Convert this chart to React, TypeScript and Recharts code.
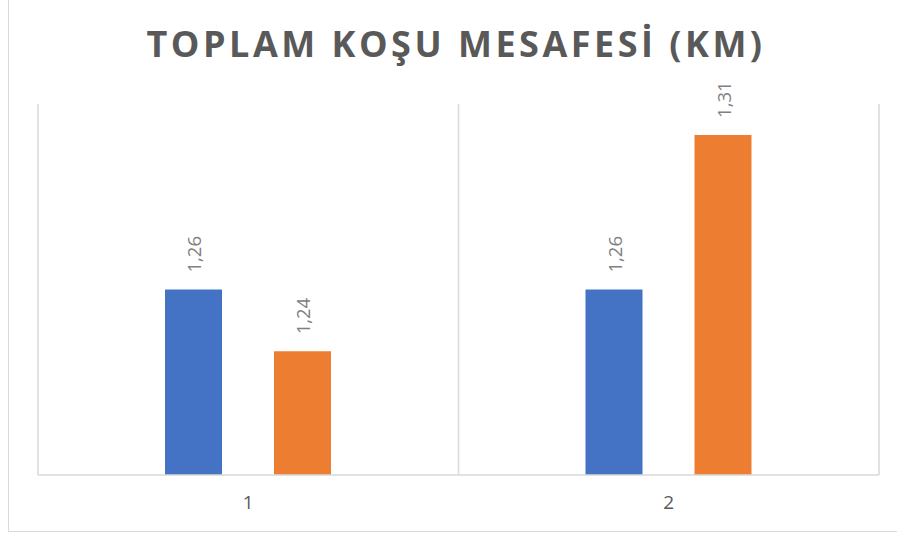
import React from "react";
import { BarChart, Bar, XAxis, YAxis, CartesianGrid, LabelList } from "recharts";

const categories = ["1", "2"];
const seriesA = [1.26, 1.26];
const seriesB = [1.24, 1.31];
const gridTicks = [0, 1, 2];

const data = categories.map((c, i) => ({ name: c, a: seriesA[i], b: seriesB[i], pos: i + 0.5 }));

const fmt = (v: number) => v.toFixed(2).replace(".", ",");

const VerticalLabel = (props: any) => {
  const { x, y, width, value } = props;
  const cx = Number(x) + Number(width) / 2;
  const cy = Number(y) - 17;
  return (
    <text
      transform={`translate(${cx}, ${cy}) rotate(-90)`}
      textAnchor="start"
      dominantBaseline="central"
      fill="#808080"
      fontSize={18.5}
      fontFamily="Open Sans"
    >
      {fmt(Number(value))}
    </text>
  );
};

export default function App() {
  return (
    <div style={{ position: "fixed", left: 0, top: 0, width: 897, height: 536, overflow: "hidden", background: "#fff" }}>
      <div
        style={{
          position: "absolute",
          left: 8,
          top: -5,
          width: 900,
          height: 537,
          border: "1.5px solid #d9d9d9",
          boxSizing: "border-box",
        }}
      />
      <div
        style={{
          position: "absolute",
          left: 0,
          width: 912,
          top: 19,
          textAlign: "center",
          fontFamily: "Open Sans",
          fontWeight: 700,
          fontSize: 36,
          letterSpacing: 3.5,
          color: "#595959",
          lineHeight: "50px",
        }}
      >
        TOPLAM KOŞU MESAFESİ (KM)
      </div>
      <div style={{ position: "absolute", left: 0, top: 0 }}>
        <BarChart
          width={897}
          height={536}
          data={data}
          margin={{ top: 104, right: 18, bottom: 0, left: 38 }}
          barSize={57}
          barGap={52}
        >
          <CartesianGrid xAxisId="grid" horizontal={false} stroke="#d9d9d9" strokeWidth={1.5} />
          <XAxis
            dataKey="name"
            axisLine={{ stroke: "#d9d9d9", strokeWidth: 1.5 }}
            tickLine={false}
            tick={{ fill: "#595959", fontSize: 19, fontFamily: "Open Sans" }}
            tickMargin={15}
            height={61}
          />
          <XAxis
            xAxisId="grid"
            dataKey="pos"
            type="number"
            domain={[0, 2]}
            ticks={gridTicks}
            hide
          />
          <YAxis hide domain={[1.2, 1.32]} />
          <Bar dataKey="a" fill="#4472C4" isAnimationActive={false}>
            <LabelList dataKey="a" content={VerticalLabel} />
          </Bar>
          <Bar dataKey="b" fill="#ED7D31" isAnimationActive={false}>
            <LabelList dataKey="b" content={VerticalLabel} />
          </Bar>
        </BarChart>
      </div>
    </div>
  );
}
